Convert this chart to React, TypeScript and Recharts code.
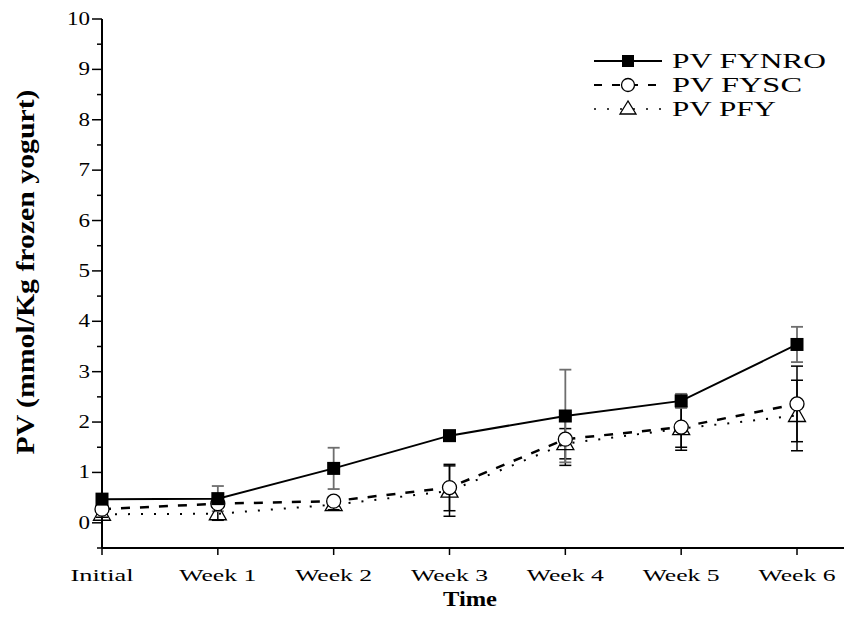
import React from 'react';
import { LineChart, Line, XAxis, YAxis, ErrorBar } from 'recharts';

const categories = ['Initial', 'Week 1', 'Week 2', 'Week 3', 'Week 4', 'Week 5', 'Week 6'];
const fynro = [0.47, 0.48, 1.08, 1.73, 2.12, 2.42, 3.54];
const fynroErr = [0.05, 0.25, 0.41, 0.08, 0.92, 0.14, 0.35];
const fysc = [0.27, 0.38, 0.43, 0.7, 1.66, 1.9, 2.36];
const fyscErr = [0.05, 0.06, 0.08, 0.46, 0.52, 0.4, 0.75];
const pfy = [0.17, 0.18, 0.36, 0.63, 1.57, 1.87, 2.13];
const pfyErr = [0.06, 0.13, 0.1, 0.5, 0.3, 0.43, 0.7];
const yTicks = [-0.5, 0, 0.5, 1, 1.5, 2, 2.5, 3, 3.5, 4, 4.5, 5, 5.5, 6, 6.5, 7, 7.5, 8, 8.5, 9, 9.5, 10];
const seriesNames = ['PV FYNRO', 'PV FYSC', 'PV PFY'];
const xTitle = 'Time';
const yTitle = 'PV (mmol/Kg frozen yogurt)';

const data = categories.map((c, i) => ({
  time: c,
  fynro: fynro[i],
  fynroErr: fynroErr[i],
  fysc: fysc[i],
  fyscErr: fyscErr[i],
  pfy: pfy[i],
  pfyErr: pfyErr[i],
}));

const FONT = '"Liberation Serif", "Times New Roman", Times, serif';
const AXIS_X = 102;
const AXIS_Y = 548;

const YTick = (props: any) => {
  const { y, payload } = props;
  const v = payload.value as number;
  const major = Number.isInteger(v);
  const label = String(v);
  return (
    <g>
      <line x1={AXIS_X - (major ? 10 : 5)} x2={AXIS_X} y1={y} y2={y} stroke="#000" strokeWidth={1.5} />
      {major && (
        <text
          x={90}
          y={y + 6}
          textAnchor="end"
          fontFamily={FONT}
          fontSize={18}
          textLength={label.length * 11.5}
          lengthAdjust="spacingAndGlyphs"
          fill="#000"
        >
          {label}
        </text>
      )}
    </g>
  );
};

const XTick = (props: any) => {
  const { x, payload } = props;
  const label = String(payload.value);
  const w = label === 'Initial' ? 63 : 77;
  return (
    <g>
      <line x1={x} x2={x} y1={AXIS_Y} y2={AXIS_Y + 7} stroke="#000" strokeWidth={1.5} />
      <text
        x={x}
        y={581}
        textAnchor="middle"
        fontFamily={FONT}
        fontSize={16}
        textLength={w}
        lengthAdjust="spacingAndGlyphs"
        fill="#000"
      >
        {label}
      </text>
    </g>
  );
};

const SquareDot = (p: any) => (
  <rect key={`sq-${p.index}`} x={p.cx - 6.5} y={p.cy - 6.5} width={13} height={13} fill="#000" />
);
const CircleDot = (p: any) => (
  <circle key={`ci-${p.index}`} cx={p.cx} cy={p.cy} r={7} fill="#fff" stroke="#000" strokeWidth={1.3} />
);
const TriDot = (p: any) => (
  <polygon
    key={`tr-${p.index}`}
    points={`${p.cx},${p.cy - 9} ${p.cx - 8.5},${p.cy + 6} ${p.cx + 8.5},${p.cy + 6}`}
    fill="none"
    stroke="#000"
    strokeWidth={1.3}
  />
);

const legendRows = [
  { name: seriesNames[0], y: 61, dash: undefined as string | undefined, w: 154, marker: 'sq' },
  { name: seriesNames[1], y: 85, dash: '8 10', w: 130, marker: 'ci' },
  { name: seriesNames[2], y: 109, dash: '2 11', w: 104, marker: 'tr' },
];

export default function App() {
  return (
    <div style={{ position: 'absolute', left: 0, top: 0, width: 844, height: 635, background: '#fff' }}>
      <LineChart
        width={844}
        height={635}
        data={data}
        margin={{ top: 19, right: 0, bottom: 57, left: 0 }}
      >
        <XAxis
          dataKey="time"
          padding={{ left: 0, right: 47 }}
          axisLine={{ stroke: '#000', strokeWidth: 2 }}
          tickLine={false}
          tick={<XTick />}
          height={30}
          interval={0}
        />
        <YAxis
          type="number"
          domain={[-0.5, 10]}
          ticks={yTicks}
          width={102}
          axisLine={{ stroke: '#000', strokeWidth: 2 }}
          tickLine={false}
          tick={<YTick />}
          interval={0}
          allowDataOverflow
        />
        <Line
          dataKey="pfy"
          stroke="#000"
          strokeWidth={2}
          strokeDasharray="2 11"
          dot={TriDot}
          activeDot={false}
          isAnimationActive={false}
        >
          <ErrorBar dataKey="pfyErr" width={6} stroke="#000" strokeWidth={1.5} direction="y" />
        </Line>
        <Line
          dataKey="fysc"
          stroke="#000"
          strokeWidth={2.5}
          strokeDasharray="9 10"
          dot={CircleDot}
          activeDot={false}
          isAnimationActive={false}
        >
          <ErrorBar dataKey="fyscErr" width={6} stroke="#000" strokeWidth={1.5} direction="y" />
        </Line>
        <Line
          dataKey="fynro"
          stroke="#000"
          strokeWidth={2}
          dot={SquareDot}
          activeDot={false}
          isAnimationActive={false}
        >
          <ErrorBar dataKey="fynroErr" width={6} stroke="#6e6e6e" strokeWidth={1.8} direction="y" />
        </Line>
      </LineChart>
      <svg
        width={844}
        height={635}
        style={{ position: 'absolute', left: 0, top: 0, pointerEvents: 'none' }}
      >
        {legendRows.map((r) => (
          <g key={r.name}>
            <line x1={594} x2={662} y1={r.y} y2={r.y} stroke="#000" strokeWidth={r.marker === 'tr' ? 1.5 : 2} strokeDasharray={r.dash} />
            {r.marker === 'sq' && <rect x={622} y={r.y - 6} width={12} height={12} fill="#000" />}
            {r.marker === 'ci' && <circle cx={628} cy={r.y} r={6.5} fill="#fff" stroke="#000" strokeWidth={1.3} />}
            {r.marker === 'tr' && (
              <polygon points={`628,${r.y - 8} 620,${r.y + 5} 636,${r.y + 5}`} fill="#fff" stroke="#000" strokeWidth={1.3} />
            )}
            <text
              x={672}
              y={r.y + 7}
              fontFamily={FONT}
              fontSize={21}
              textLength={r.w}
              lengthAdjust="spacingAndGlyphs"
              fill="#000"
            >
              {r.name}
            </text>
          </g>
        ))}
        <text
          x={470}
          y={606}
          textAnchor="middle"
          fontFamily={FONT}
          fontSize={21}
          fontWeight="bold"
          textLength={54}
          lengthAdjust="spacingAndGlyphs"
          fill="#000"
        >
          {xTitle}
        </text>
        <text
          transform="translate(34, 272) rotate(-90)"
          textAnchor="middle"
          fontFamily={FONT}
          fontSize={26}
          fontWeight="bold"
          textLength={365}
          lengthAdjust="spacingAndGlyphs"
          fill="#000"
        >
          {yTitle}
        </text>
      </svg>
    </div>
  );
}
